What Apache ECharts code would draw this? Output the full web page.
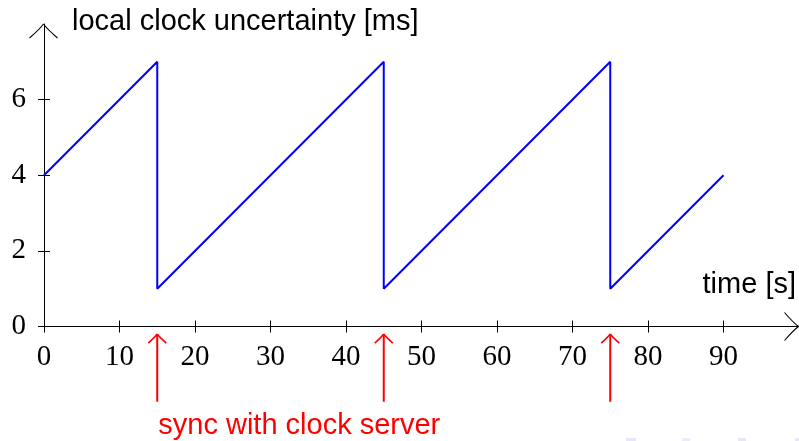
<!DOCTYPE html>
<html>
<head>
<meta charset="utf-8">
<script src="https://cdn.jsdelivr.net/npm/echarts@6/dist/echarts.min.js"></script>
<style>
  html, body { margin: 0; padding: 0; background: #fff; }
  #chart { width: 799px; height: 441px; }
</style>
</head>
<body>
<div id="chart"></div>
<script>
// Sawtooth of the local clock uncertainty: grows linearly, drops on each sync.
const timeValues = [0, 15, 15, 45, 45, 75, 75, 90];
const uncertaintyValues = [4, 7, 1, 7, 1, 7, 1, 4];

// Moments when the clock is synchronised with the server.
const syncTimes = [15, 45, 75];
const syncLabel = 'sync with clock server';

// Tick labels.
const xTicks = [0, 10, 20, 30, 40, 50, 60, 70, 80, 90];
const yTicks = [0, 2, 4, 6];

// Axis extents (the arrow heads sit at the far ends).
const xMax = 100;
const yMax = 8;

const xName = 'time [s]';
const yName = 'local clock uncertainty [ms]';

const SANS = '"Liberation Sans", Arial, sans-serif';
const SERIF = '"Liberation Serif", "Times New Roman", serif';

const seriesData = timeValues.map((t, i) => [t, uncertaintyValues[i]]);

const chart = echarts.init(document.getElementById('chart'), null, { renderer: 'canvas' });

const xBase = {
  type: 'value', min: 0, max: xMax, position: 'bottom',
  splitLine: { show: false }
};
const yBase = {
  type: 'value', min: 0, max: yMax, position: 'left',
  splitLine: { show: false }
};

// Curved open arrow head pointing along (dx, dy) with its tip at (x, y).
function arrowHead(x, y, dx, dy, size, color, width) {
  const nx = -dy, ny = dx;
  const arm = (s) => ({
    type: 'bezierCurve',
    shape: {
      x1: x - dx * size + nx * size * s, y1: y - dy * size + ny * size * s,
      cpx1: x - dx * size * 0.35 + nx * size * 0.25 * s, cpy1: y - dy * size * 0.35 + ny * size * 0.25 * s,
      x2: x, y2: y
    },
    style: { stroke: color, lineWidth: width, fill: null }
  });
  return [arm(1), arm(-1)];
}

chart.setOption({
  animation: false,
  backgroundColor: '#ffffff',
  grid: { left: 44, right: 0, top: 24, bottom: 114.5, containLabel: false },
  xAxis: [
    Object.assign({}, xBase, {
      name: xName,
      nameLocation: 'end',
      nameGap: -3,
      nameTextStyle: {
        fontFamily: SANS, fontSize: 29, color: '#000',
        align: 'right', verticalAlign: 'bottom', padding: [0, 0, 27, 0]
      },
      axisLine: { show: true, onZero: false, lineStyle: { color: '#000', width: 1 } },
      axisTick: { show: true, inside: false, length: 6, customValues: xTicks, lineStyle: { color: '#000', width: 1 } },
      axisLabel: {
        show: true, customValues: xTicks, margin: 16,
        fontFamily: SERIF, fontSize: 29, color: '#000'
      }
    }),
    Object.assign({}, xBase, {
      axisLine: { show: false },
      axisTick: { show: true, inside: true, length: 6, customValues: xTicks, lineStyle: { color: '#000', width: 1 } },
      axisLabel: { show: false }
    })
  ],
  yAxis: [
    Object.assign({}, yBase, {
      name: yName,
      nameLocation: 'end',
      nameGap: 2,
      nameTextStyle: {
        fontFamily: SANS, fontSize: 29, color: '#000',
        align: 'left', verticalAlign: 'middle', padding: [0, 0, 0, 28]
      },
      axisLine: { show: true, onZero: false, lineStyle: { color: '#000', width: 1 } },
      axisTick: { show: true, inside: false, length: 6, customValues: yTicks, lineStyle: { color: '#000', width: 1 } },
      axisLabel: {
        show: true, customValues: yTicks, margin: 18,
        fontFamily: SERIF, fontSize: 29, color: '#000'
      }
    }),
    Object.assign({}, yBase, {
      axisLine: { show: false },
      axisTick: { show: true, inside: true, length: 6, customValues: yTicks, lineStyle: { color: '#000', width: 1 } },
      axisLabel: { show: false }
    })
  ],
  series: [
    {
      type: 'line',
      xAxisIndex: 0, yAxisIndex: 0,
      data: seriesData,
      showSymbol: false,
      lineStyle: { color: '#0000ff', width: 2 },
      clip: false
    },
    {
      // Arrow heads at the ends of the two axes.
      type: 'custom',
      xAxisIndex: 0, yAxisIndex: 0,
      clip: false,
      silent: true,
      data: [[xMax, 0, 1, 0], [0, yMax, 0, -1]],
      renderItem: function (params, api) {
        const p = api.coord([api.value(0), api.value(1)]);
        return {
          type: 'group',
          children: arrowHead(p[0] - 0.5, p[1], api.value(2), api.value(3), 14, '#000', 1.1)
        };
      }
    },
    {
      // Red arrows below the time axis marking each synchronisation.
      type: 'custom',
      xAxisIndex: 0, yAxisIndex: 0,
      clip: false,
      silent: true,
      data: syncTimes.map(t => [t]),
      renderItem: function (params, api) {
        const t = api.value(0);
        const tip = api.coord([t, -0.2]);
        const tail = api.coord([t, -1.99]);
        const children = [
          {
            type: 'line',
            shape: { x1: tail[0], y1: tail[1], x2: tip[0], y2: tip[1] },
            style: { stroke: '#ff0000', lineWidth: 2 }
          }
        ].concat(arrowHead(tip[0], tip[1], 0, -1, 9, '#ff0000', 1.6));
        if (params.dataIndex === 0) {
          const pos = api.coord([t, -2.62]);
          children.push({
            type: 'text',
            x: pos[0] + 1, y: pos[1],
            style: {
              text: syncLabel, fill: '#ff0000',
              font: '29px ' + SANS,
              textAlign: 'left', textVerticalAlign: 'middle'
            }
          });
        }
        return { type: 'group', children: children };
      }
    }
  ],
  graphic: [
    // Faint navigation marks along the lower right edge.
    { type: 'rect', shape: { x: 626, y: 438, width: 10, height: 3 }, style: { fill: '#e6e6f6' }, silent: true },
    { type: 'rect', shape: { x: 682, y: 438, width: 8, height: 3 }, style: { fill: '#ececf8' }, silent: true },
    { type: 'rect', shape: { x: 738, y: 438, width: 8, height: 3 }, style: { fill: '#e6e6f6' }, silent: true },
    { type: 'rect', shape: { x: 795, y: 438, width: 4, height: 3 }, style: { fill: '#e6e6f6' }, silent: true }
  ]
});
</script>
</body>
</html>
